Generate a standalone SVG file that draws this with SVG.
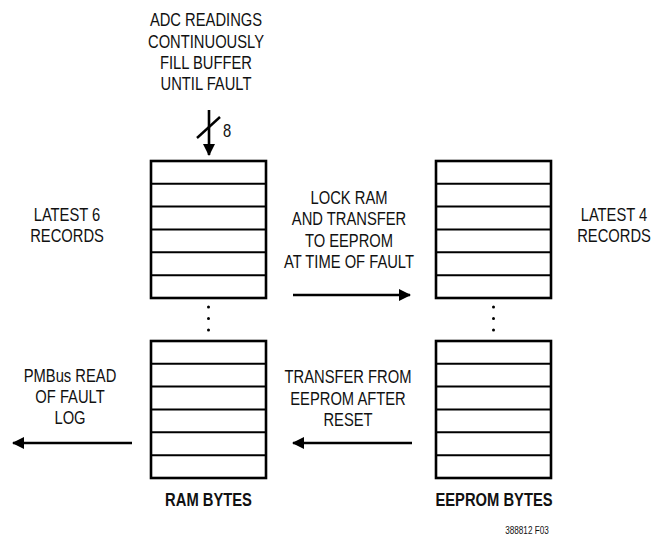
<svg xmlns="http://www.w3.org/2000/svg" width="663" height="535" viewBox="0 0 663 535">
<style>
text{font-family:"Liberation Sans","Arial",sans-serif;font-size:18px;fill:#111;text-anchor:middle}
.b{font-weight:bold}
.s{font-size:10px}
.box{fill:#fff;stroke:#000;stroke-width:2.6}
.row{stroke:#000;stroke-width:2}
.ln{stroke:#000;stroke-width:2.6;fill:none}
.dot{fill:#000}
</style>
<defs>
<marker id="ah" markerWidth="12" markerHeight="12" viewBox="0 0 12 12" refX="11" refY="6" orient="auto" markerUnits="userSpaceOnUse">
<path d="M0,0 L12,6 L0,12 Z" fill="#000"/>
</marker>
<g id="stack">
<rect class="box" x="0" y="0" width="115" height="137"/>
<line class="row" x1="0" y1="22.8" x2="115" y2="22.8"/>
<line class="row" x1="0" y1="45.6" x2="115" y2="45.6"/>
<line class="row" x1="0" y1="68.5" x2="115" y2="68.5"/>
<line class="row" x1="0" y1="91.3" x2="115" y2="91.3"/>
<line class="row" x1="0" y1="114.2" x2="115" y2="114.2"/>
</g>
</defs>
<g id="ram-upper"><use href="#stack" x="151" y="161"/></g>
<g id="ram-dots"><circle class="dot" cx="208.5" cy="307" r="1.5"/><circle class="dot" cx="208.5" cy="318.5" r="1.5"/><circle class="dot" cx="208.5" cy="330" r="1.5"/></g>
<g id="ram-lower"><use href="#stack" x="151" y="341"/></g>
<g id="eeprom-upper"><use href="#stack" x="436" y="161"/></g>
<g id="eeprom-dots"><circle class="dot" cx="493.5" cy="307" r="1.5"/><circle class="dot" cx="493.5" cy="318.5" r="1.5"/><circle class="dot" cx="493.5" cy="330" r="1.5"/></g>
<g id="eeprom-lower"><use href="#stack" x="436" y="341"/></g>
<g id="connectors">
<line class="ln" x1="209" y1="110" x2="209" y2="155" marker-end="url(#ah)"/>
<line x1="197" y1="138" x2="220" y2="117" stroke="#000" stroke-width="2.4"/>
<line class="ln" x1="293" y1="295" x2="410" y2="295" marker-end="url(#ah)"/>
<line class="ln" x1="412" y1="443" x2="293" y2="443" marker-end="url(#ah)"/>
<line class="ln" x1="132" y1="443" x2="13" y2="443" marker-end="url(#ah)"/>
</g>
<g id="labels">
<text transform="translate(206 26) scale(0.82 1)">ADC READINGS</text>
<text transform="translate(206 48) scale(0.82 1)">CONTINUOUSLY</text>
<text transform="translate(206 69) scale(0.82 1)">FILL BUFFER</text>
<text transform="translate(206 90) scale(0.82 1)">UNTIL FAULT</text>
<text transform="translate(227 137) scale(0.82 1)">8</text>
<text transform="translate(67 221) scale(0.82 1)">LATEST 6</text>
<text transform="translate(67 242) scale(0.82 1)">RECORDS</text>
<text transform="translate(614 221) scale(0.82 1)">LATEST 4</text>
<text transform="translate(614 242) scale(0.82 1)">RECORDS</text>
<text transform="translate(349 204) scale(0.82 1)">LOCK RAM</text>
<text transform="translate(349 225) scale(0.82 1)">AND TRANSFER</text>
<text transform="translate(349 247) scale(0.82 1)">TO EEPROM</text>
<text transform="translate(349 268) scale(0.82 1)">AT TIME OF FAULT</text>
<text transform="translate(348 383) scale(0.82 1)">TRANSFER FROM</text>
<text transform="translate(348 405) scale(0.82 1)">EEPROM AFTER</text>
<text transform="translate(348 426) scale(0.82 1)">RESET</text>
<text transform="translate(70 382) scale(0.82 1)">PMBus READ</text>
<text transform="translate(70 403) scale(0.82 1)">OF FAULT</text>
<text transform="translate(70 424) scale(0.82 1)">LOG</text>
<text class="b" transform="translate(208.5 506) scale(0.82 1)">RAM BYTES</text>
<text class="b" transform="translate(494 506) scale(0.82 1)">EEPROM BYTES</text>
<text class="s" transform="translate(527 534) scale(0.82 1)">388812 F03</text>
</g>
</svg>
